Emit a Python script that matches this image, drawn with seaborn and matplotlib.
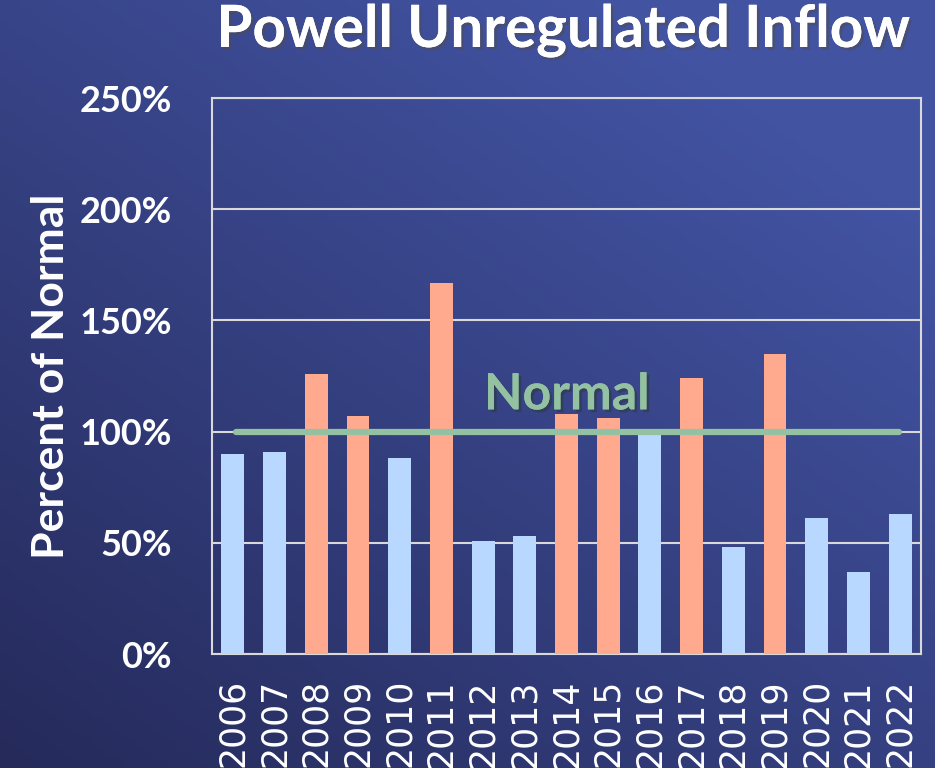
import matplotlib
matplotlib.use("Agg")
import matplotlib.pyplot as plt
import matplotlib.patheffects as pe
import numpy as np
import pandas as pd
import seaborn as sns

# Data (percent of normal)
years = ['2006', '2007', '2008', '2009', '2010', '2011', '2012', '2013', '2014',
         '2015', '2016', '2017', '2018', '2019', '2020', '2021', '2022']
inflow = [90, 91, 126, 107, 88, 167, 51, 53, 108, 106, 99, 124, 48, 135, 61, 37, 63]
normal = 100
y_ticks = [0, 50, 100, 150, 200, 250]

df = pd.DataFrame({'year': years, 'inflow': inflow})
df['kind'] = np.where(df['inflow'] > normal, 'above', 'below')
palette = {'above': '#ffa98f', 'below': '#b9d8ff'}

sns.set_theme(style='white')
plt.rcParams['font.family'] = ['Lato', 'DejaVu Sans']

fig = plt.figure(figsize=(9.35, 7.68), dpi=100)

# gradient background
bg = fig.add_axes([0, 0, 1, 1])
gx, gy = np.meshgrid(np.linspace(0, 1, 200), np.linspace(0, 1, 200))
t = np.clip(0.55 * gx + 0.65 * (1 - gy), 0, 1)  # 0 bottom-left -> 1 top-right
c0 = np.array([0x25, 0x2a, 0x5a]) / 255
c1 = np.array([0x42, 0x53, 0xa2]) / 255
img = c0 + (c1 - c0) * t[..., None]
bg.imshow(img, extent=[0, 1, 0, 1], aspect='auto', origin='upper')
bg.axis('off')

ax = fig.add_axes([212 / 935, 114 / 768, 709 / 935, 556 / 768])
ax.patch.set_alpha(0)
sns.barplot(data=df, x='year', y='inflow', hue='kind', palette=palette,
            dodge=False, width=0.55, legend=False, saturation=1, linewidth=0,
            ax=ax, zorder=3)

ax.set_ylim(0, 250)
ax.set_xlim(-0.5, len(years) - 0.5)
ax.set_yticks(y_ticks)
ax.set_yticklabels([f'{v}%' for v in y_ticks], fontsize=26, fontweight='bold', color='white')
ax.tick_params(axis='x', labelrotation=90, labelsize=25, colors='white', pad=12)
ax.tick_params(axis='y', pad=29, length=0)
for lab in ax.get_xticklabels():
    lab.set_fontfamily(['DejaVu Sans'])
ax.grid(axis='y', color='#d9d9d9', linewidth=1.5, zorder=0)
for s in ax.spines.values():
    s.set_color('#d9d9d9')
    s.set_linewidth(1.5)
ax.set_xlabel('')
ax.set_ylabel('Percent of Normal', fontsize=32, fontweight='bold', color='white', labelpad=6)

# normal line
ax.plot([0.07, 15.97], [normal, normal], color='#93c1a1', linewidth=4.5,
        solid_capstyle='round', zorder=4)
ax.text(8.0, 110, 'Normal', color='#93c1a1', fontsize=36, fontweight='bold',
        ha='center', va='baseline', zorder=5,
        path_effects=[pe.withSimplePatchShadow(offset=(2, -2), alpha=0.5), pe.Normal()])

fig.text(0.6027, 721 / 768, 'Powell Unregulated Inflow', color='white', fontsize=42,
         fontweight='bold', ha='center', va='baseline',
         path_effects=[pe.withSimplePatchShadow(offset=(2, -2), alpha=0.5), pe.Normal()])

fig.savefig('out.png', dpi=100)
